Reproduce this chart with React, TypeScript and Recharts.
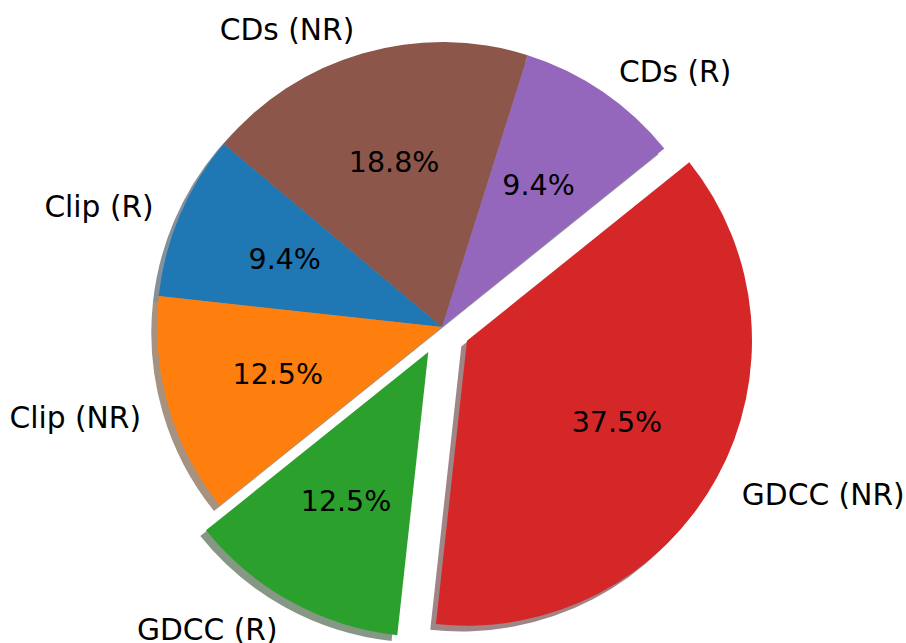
import { PieChart, Pie, Cell } from 'recharts';

const labels = ['Clip (R)', 'Clip (NR)', 'GDCC (R)', 'GDCC (NR)', 'CDs (R)', 'CDs (NR)'];
const counts = [3, 4, 4, 12, 3, 6];
const explode = [0, 0, 0.1, 0.1, 0, 0];
const colors = ['#1f77b4', '#ff7f0e', '#2ca02c', '#d62728', '#9467bd', '#8c564b'];

const data = labels.map((name, i) => ({ name, value: counts[i] }));

const CX = 442;
const CY = 327;
const R = 285;
const START = 140;
const RAD = Math.PI / 180;
const FONT = 'DejaVu Sans, sans-serif';

const total = counts.reduce((a, b) => a + b, 0);

// matplotlib-style explode: push slice out along its mid angle
const offsets = counts.map((v, i) => {
  const before = counts.slice(0, i).reduce((a, b) => a + b, 0);
  const mid = (START + ((before + v / 2) / total) * 360) * RAD;
  return { dx: explode[i] * R * Math.cos(mid), dy: -explode[i] * R * Math.sin(mid) };
});

// matplotlib Shadow: 0.3 * face colour at alpha 0.5
function shadowOf(hex: string) {
  const n = parseInt(hex.slice(1), 16);
  const r = Math.round(((n >> 16) & 255) * 0.3);
  const g = Math.round(((n >> 8) & 255) * 0.3);
  const b = Math.round((n & 255) * 0.3);
  return `rgb(${r},${g},${b})`;
}

const makeLabel = (slot: number) => (p: any) => {
  if (p.index !== slot) return <g />;
  const a = -p.midAngle * RAD;
  const lx = p.cx + 1.1 * p.outerRadius * Math.cos(a);
  const ly = p.cy + 1.1 * p.outerRadius * Math.sin(a);
  const px = p.cx + 0.6 * p.outerRadius * Math.cos(a);
  const py = p.cy + 0.6 * p.outerRadius * Math.sin(a);
  return (
    <g>
      <text
        x={lx}
        y={ly + 3}
        textAnchor={lx > p.cx ? 'start' : 'end'}
        dominantBaseline="central"
        fontFamily={FONT}
        fontSize={29.7}
        fill="#000"
      >
        {labels[slot]}
      </text>
      <text
        x={px}
        y={py}
        textAnchor="middle"
        dominantBaseline="central"
        fontFamily={FONT}
        fontSize={28.5}
        fill="#000"
      >
        {(p.percent * 100).toFixed(1)}%
      </text>
    </g>
  );
};

export default function App() {
  const shift = R * 0.02;
  return (
    <div style={{ position: 'absolute', left: 0, top: 0, width: 906, height: 643, background: '#fff' }}>
      <PieChart width={906} height={643} margin={{ top: 0, right: 0, bottom: 0, left: 0 }}>
        {/* shadows */}
        {labels.map((_, i) => (
          <Pie
            key={'s' + i}
            data={data}
            dataKey="value"
            cx={CX + offsets[i].dx - shift}
            cy={CY + offsets[i].dy + shift}
            outerRadius={R}
            startAngle={START}
            endAngle={START + 360}
            stroke="none"
            isAnimationActive={false}
            labelLine={false}
          >
            {data.map((_, j) => (
              <Cell
                key={j}
                fill={j === i ? shadowOf(colors[i]) : 'none'}
                fillOpacity={0.5}
              />
            ))}
          </Pie>
        ))}
        {/* wedges */}
        {labels.map((_, i) => (
          <Pie
            key={'w' + i}
            data={data}
            dataKey="value"
            cx={CX + offsets[i].dx}
            cy={CY + offsets[i].dy}
            outerRadius={R}
            startAngle={START}
            endAngle={START + 360}
            stroke="none"
            isAnimationActive={false}
            labelLine={false}
            label={makeLabel(i)}
          >
            {data.map((_, j) => (
              <Cell key={j} fill={j === i ? colors[i] : 'none'} />
            ))}
          </Pie>
        ))}
      </PieChart>
    </div>
  );
}
